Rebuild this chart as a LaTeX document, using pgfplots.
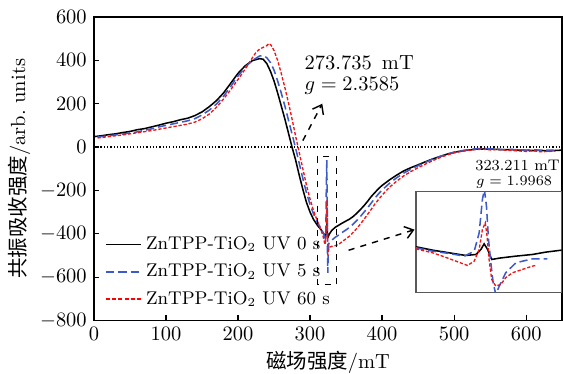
\documentclass[border=0pt]{standalone}
\usepackage{pgfplots}
\pgfplotsset{compat=1.18}
\usepackage{fontspec}
\newfontfamily\cjk{Noto Sans CJK SC}
\usetikzlibrary{arrows.meta}
\definecolor{myblue}{RGB}{60,90,200}
\definecolor{myred}{RGB}{240,20,20}
\pgfplotsset{
  s0/.style={color=black, line width=0.75pt, solid},
  s5/.style={color=myblue, line width=0.75pt, dash pattern=on 4pt off 2pt},
  s60/.style={color=myred, line width=0.65pt, dash pattern=on 1.6pt off 0.9pt},
}
\begin{document}
\begin{tikzpicture}
\begin{axis}[
  name=main,
  scale only axis, width=228.8pt, height=148.3pt,
  xmin=0, xmax=650, ymin=-800, ymax=600,
  xtick={0,100,...,600}, ytick={-800,-600,...,600},
  xtick pos=bottom, ytick pos=left, tick align=inside,
  major tick length=2.5pt,
  axis line style={line width=0.7pt}, tick style={line width=0.6pt, black},
  xlabel={{\cjk 磁场强度}/mT},
  ylabel={{\cjk 共振吸收强度}/arb.\ units},
  xlabel style={yshift=2pt},
  ylabel style={yshift=-2pt},
  legend style={at={(0.01,0.015)}, anchor=south west, draw=none, fill=none, font=\small, row sep=1.5pt},
  legend cell align=left,
  clip=true,
]
\addlegendimage{color=black, line width=0.6pt, solid}
\addlegendentry{ZnTPP-TiO$_2$ UV 0 s}
\addlegendimage{color=myblue, line width=0.8pt, dash pattern=on 4pt off 2pt}
\addlegendentry{ZnTPP-TiO$_2$ UV 5 s}
\addlegendimage{color=red, line width=0.9pt, dash pattern=on 2pt off 1pt}
\addlegendentry{ZnTPP-TiO$_2$ UV 60 s}
\draw[black, densely dotted, line width=0.6pt] (axis cs:0,0) -- (axis cs:650,0);
\addplot[s0, forget plot] coordinates {
(0,48)(10,52)(20,57)(30,61)(40,67)(50,72)(60,80)(70,85)(80,93)(90,101)(100,110)(110,117)(120,126)(130,133)(140,145)(150,162)(160,186)(170,214)(180,250)(190,295)(200,340)(210,375)(220,399)(230,408)(235,405)(240,385)(245,350)(250,305)(255,250)(260,190)(265,130)(270,65)(275,0)(280,-60)(285,-130)(290,-195)(295,-255)(300,-300)(305,-335)(310,-360)(315,-380)(318,-395)(321,-410)(322,-400)(323,-370)(324,-395)(325,-415)(327,-400)(330,-385)(335,-370)(340,-360)(345,-350)(350,-341)(355,-332)(360,-320)(365,-305)(370,-288)(375,-270)(380,-250)(385,-228)(390,-210)(395,-192)(400,-177)(410,-152)(420,-130)(430,-110)(440,-95)(450,-82)(460,-68)(470,-55)(480,-44)(490,-33)(500,-24)(510,-18)(520,-14)(530,-10)(540,-9)(550,-9)(560,-11)(570,-12)(580,-12)(590,-14)(600,-15)(610,-16)(620,-15)(630,-18)(640,-16)(650,-14)
};
\addplot[s5, forget plot] coordinates {
(5,47)(10,48)(20,52)(30,56)(40,60)(50,65)(60,70)(70,77)(80,84)(90,93)(100,100)(110,107)(120,114)(130,121)(140,131)(150,148)(160,170)(170,198)(180,235)(190,280)(200,328)(210,368)(220,400)(230,420)(235,422)(240,412)(245,390)(250,355)(255,305)(260,250)(265,190)(270,125)(275,60)(280,-5)(285,-75)(290,-145)(295,-210)(300,-265)(305,-310)(310,-345)(315,-375)(318,-395)(320,-410)(321,-420)(322,-380)(322.7,-150)(323.2,-60)(323.7,-200)(324.2,-480)(324.7,-580)(325.2,-500)(326,-445)(330,-430)(335,-416)(340,-405)(345,-393)(350,-382)(355,-370)(360,-355)(365,-338)(370,-320)(375,-300)(380,-280)(385,-258)(390,-236)(395,-216)(400,-198)(410,-168)(420,-142)(430,-120)(440,-102)(450,-86)(460,-71)(470,-56)(480,-44)(490,-33)(500,-24)(510,-17)(520,-12)(530,-8)(540,-6)(550,-8)(560,-10)(570,-12)(580,-11)(590,-13)(600,-14)(610,-12)(620,-15)(630,-14)(640,-15)
};
\addplot[s60, forget plot] coordinates {
(5,42)(10,44)(20,48)(30,52)(40,56)(50,61)(60,66)(70,71)(80,76)(90,82)(100,88)(110,94)(120,100)(130,106)(140,115)(150,130)(160,152)(170,183)(180,222)(190,265)(200,312)(210,360)(220,412)(225,437)(230,452)(235,460)(240,468)(243,478)(246,470)(250,445)(255,400)(260,340)(265,275)(270,205)(275,130)(280,50)(285,-25)(290,-100)(295,-175)(300,-240)(305,-295)(310,-340)(315,-380)(318,-410)(320,-440)(321,-450)(322,-420)(323,-300)(323.6,-245)(324.2,-350)(324.8,-500)(325.5,-475)(327,-462)(330,-458)(335,-455)(340,-448)(345,-435)(350,-423)(355,-410)(360,-393)(365,-375)(370,-355)(375,-333)(380,-310)(385,-287)(390,-263)(395,-242)(400,-222)(410,-186)(420,-158)(430,-133)(440,-113)(450,-95)(460,-79)(470,-63)(480,-49)(490,-37)(500,-27)(510,-20)(520,-15)(530,-11)(540,-10)(550,-13)(560,-11)(570,-14)(580,-16)(590,-18)(600,-20)(610,-17)(620,-22)(630,-20)(640,-19)
};
\draw[black, dashed, line width=0.6pt] (axis cs:310.7,-43) rectangle (axis cs:337,-634);
\draw[black, dashed, line width=0.7pt, -{Straight Barb[length=4pt,width=6pt]}] (axis cs:290,30) -- (axis cs:317,200);
\draw[black, dashed, line width=0.7pt, -{Straight Barb[length=4pt,width=6pt]}] (axis cs:353.5,-476) -- (axis cs:445,-381);
\node[anchor=west, inner sep=0pt] at (axis cs:292,388) {273.735\,\ mT};
\node[anchor=west, inner sep=0pt] at (axis cs:292,282) {$g=2.3585$};
\node[anchor=west, inner sep=0pt, font=\fontsize{7.5}{9}\selectfont] at (axis cs:529,-86) {323.211 mT};
\node[anchor=west, inner sep=0pt, font=\fontsize{7.5}{9}\selectfont] at (axis cs:530,-163) {$g=1.9968$};
\coordinate (insetSW) at (axis cs:447,-672);
\coordinate (AxSW) at (rel axis cs:0,0);
\coordinate (AxNE) at (rel axis cs:1,1);
\end{axis}
\begin{axis}[
  at={(insetSW)}, anchor=south west,
  scale only axis, width=71.2pt, height=49.6pt,
  xmin=300, xmax=350, ymin=0, ymax=305,
  xtick=\empty, ytick=\empty,
  axis line style={black!65, line width=0.6pt},
  clip=true,
]
\addplot[s0] coordinates {(300,138)(305.7,128)(311.4,120)(317.1,112)(320.6,115)(322.3,130)(323.4,147)(324.6,130)(326.0,100)(328.6,104)(334.3,110)(340.0,115)(344.5,122)(350,128)};
\addplot[s5] coordinates {(300,135)(305.7,125)(311.4,118)(316.6,110)(320.0,125)(321.7,180)(322.8,280)(323.5,310)(324.2,260)(324.9,160)(325.7,90)(326.5,30)(327.4,-5)(328.6,20)(330.8,60)(334.3,90)(340.0,102)(345.1,102)};
\addplot[s60] coordinates {(300,132)(305.7,120)(309.1,110)(313.7,95)(317.7,82)(320.0,95)(321.7,130)(322.8,190)(323.8,210)(324.4,170)(325.1,100)(326.0,40)(327.4,20)(329.1,25)(330.8,45)(333.1,60)(336.5,70)(340.0,80)(341.1,82)};
\end{axis}
\pgfresetboundingbox
\useasboundingbox ([shift={(-45.9pt,-25.9pt)}]AxSW) rectangle ([shift={(0.4pt,8.3pt)}]AxNE);
\end{tikzpicture}
\end{document}
